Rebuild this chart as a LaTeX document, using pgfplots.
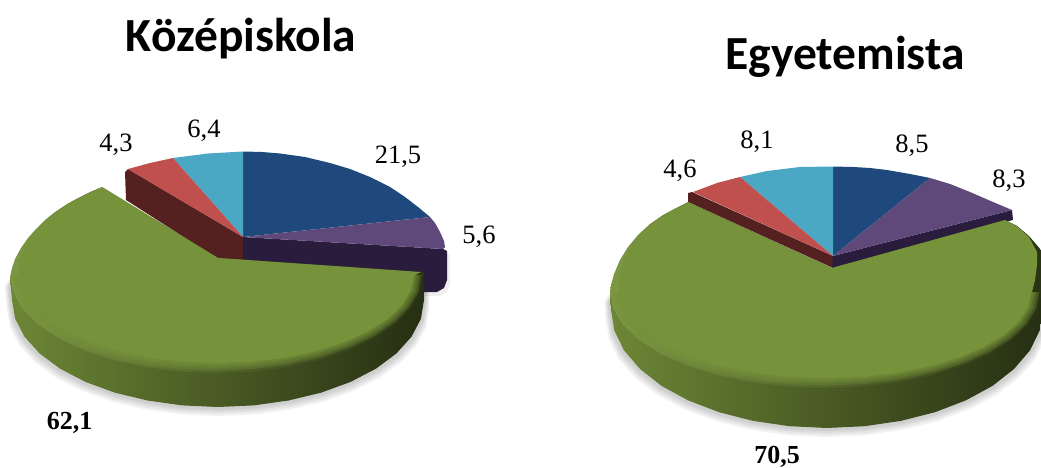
\documentclass[border=0pt]{standalone}
\usepackage{fontspec}
\usepackage{pgfplots}
\usepackage{pgfplotstable}
\pgfplotsset{compat=1.18}
\setmainfont{Liberation Serif}
\newfontfamily\titlefont{Carlito}

\definecolor{cblue}{HTML}{1F497D}
\definecolor{cpurple}{HTML}{5F497A}
\definecolor{cred}{HTML}{C0504D}
\definecolor{ccyan}{HTML}{4AA8C4}
\definecolor{cgreen}{HTML}{76923A}
\definecolor{dred}{HTML}{552020}
\definecolor{dpurple}{HTML}{2A1C3D}

% outlines are pixel positions (y runs downwards)
% --- left pie, Kozepiskola
\pgfplotstableread{
x y
243 237
243 151.5
262 152
280 153.5
305 157
330 163
350 169
370 177
390 187
405 197
418 207
430 217
}\LBlue
\pgfplotstableread{
x y
243 237
430 217
435 223
440 232
444 241
445 247
443 249
}\LPurple
\pgfplotstableread{
x y
243 237
243 151.5
208 153.5
173 158
}\LCyan
\pgfplotstableread{
x y
243 237
173 158
150 163
128 169
}\LRed
\pgfplotstableread{
x y
125 172
128 169
243 237
243 260
218 259
126 200
}\LRedSide
\pgfplotstableread{
x y
243 237
443 249
447 251
447 280
444 288
437 292
415 292
243 262
}\LPurpleSide
\pgfplotstableread{
x y
424 272
424 300
421 318.6
411.6 336.6
396.4 353.5
375.8 368.8
350.4 382
321 392.7
288.5 400.5
253.8 405.4
218 407
182.2 405.4
147.5 400.5
115 392.7
85.6 382
60.2 368.8
39.6 353.5
24.4 336.6
15.1 318.6
12 300
10 277
}\LSide
\pgfplotstableread{
x y
218 258
102 187
90 192
78 198
67 204
55 212
45 220
36 229
28 238
21 248
15 259
12 268
10 277
13.1 292
22.5 308.5
37.7 324
58.4 338
84 350
113.5 359.9
146.2 367.1
181 371.5
217 373
252.9 371.5
287.8 367.1
320.5 359.9
350 350
375.6 338
396.3 324
411.5 308.5
420.9 292
424 275
423 272
}\LTop
\pgfplotstableread{
x y
424 275
420.9 292
411.5 308.5
396.3 324
375.6 338
350 350
320.5 359.9
287.8 367.1
252.9 371.5
217 373
181 371.5
146.2 367.1
113.5 359.9
84 350
58.4 338
37.7 324
22.5 308.5
13.1 292
10 275
}\LArc
\pgfplotstableread{
x y
421 272
218 258
102 187
90 193
78 199
67 205
56 213
46 221
38 230
30 239
24 249
20 260
19 275
415 275
}\LUpper

% --- right pie, Egyetemista
\pgfplotstableread{
x y
833 256
833 166.5
853 167
870 168
887 170
910 174
930 178
}\RBlue
\pgfplotstableread{
x y
833 256
930 178
950 184
970 192
993 202
1012 210
}\RPurple
\pgfplotstableread{
x y
833 256
833 166.5
800 167
767 171
740 177
}\RCyan
\pgfplotstableread{
x y
833 256
740 177
717 183
693 192
}\RRed
\pgfplotstableread{
x y
688 193
692 192
833 256
833 268
688 202
}\RRedSide
\pgfplotstableread{
x y
833 256
1012 210
1013 220
1005 222
832 268
}\RPurpleSide
\pgfplotstableread{
x y
1043 262
1043 310
1039.7 330.5
1030 350.4
1014 369
992.5 385.9
965.8 400.4
935 412.2
900.9 420.9
864.5 426.2
827 428
789.5 426.2
753.1 420.9
719 412.2
688.2 400.4
661.5 385.9
640 369
624 350.4
614.3 330.5
611 310
610 292
}\RSide
\pgfplotstableread{
x y
832 268
688 202
676 208
663 215
650 224
638 235
628 247
620 260
614 274
611 285
610 292
613.3 308.7
623 324.8
639 340
660.5 353.7
687.2 365.5
718 375.1
752.1 382.2
788.5 386.5
826 388
863.5 386.5
899.9 382.2
934 375.1
964.8 365.5
991.5 353.7
1013 340
1029 324.8
1038.7 308.7
1042 292
1043 255
1041 250
1029 236
1017 226
1005 220
}\RTop
\pgfplotstableread{
x y
1042 292
1038.7 308.7
1029 324.8
1013 340
991.5 353.7
964.8 365.5
934 375.1
899.9 382.2
863.5 386.5
826 388
788.5 386.5
752.1 382.2
718 375.1
687.2 365.5
660.5 353.7
639 340
623 324.8
613.3 308.7
610 292
}\RArc
\pgfplotstableread{
x y
832 268
688 203
676 209
664 216
651 225
640 236
631 248
624 261
620 275
619 292
1032 292
1035 280
1037 265
1037 252
1029 237
1017 226.5
1005 220
}\RUpper

\begin{document}
\begin{tikzpicture}
\path[use as bounding box] (0,0) rectangle (1041pt,468pt);
\begin{axis}[
    at={(0,0)},
    anchor=south west,
    scale only axis,
    width=1041pt,
    height=468pt,
    xmin=0, xmax=1041,
    ymin=0, ymax=468,
    y dir=reverse,
    hide axis,
    every axis plot/.append style={draw=none, no markers}
]

  % left pie: shadow
  \addplot[fill=black, fill opacity=.05] table[x expr=218+(\thisrow{x}-218)*1.025, y expr=\thisrow{y}+9] {\LSide};
  \addplot[fill=black, fill opacity=.05] table[x expr=218+(\thisrow{x}-218)*1.02, y expr=\thisrow{y}+7] {\LSide};
  \addplot[fill=black, fill opacity=.05] table[x expr=218+(\thisrow{x}-218)*1.015, y expr=\thisrow{y}+5] {\LSide};
  \addplot[fill=black, fill opacity=.05] table[x expr=218+(\thisrow{x}-218)*1.01, y expr=\thisrow{y}+3] {\LSide};
  \addplot[fill=black, fill opacity=.06] table[x expr=\thisrow{x}+3, y expr=\thisrow{y}+4] {\LPurpleSide};

  % left pie: small slices
  \addplot[fill=dred] table {\LRedSide};
  \addplot[fill=dpurple] table {\LPurpleSide};
  \addplot[fill=cblue] table {\LBlue};
  \addplot[fill=cpurple] table {\LPurple};
  \addplot[fill=ccyan] table {\LCyan};
  \addplot[fill=cred] table {\LRed};

  % left pie: exploded green slice
  \addplot[left color=cgreen!92!black, middle color=cgreen!60!black, right color=cgreen!32!black] table {\LSide};
  \addplot[left color=cgreen!95!white, middle color=cgreen!85!white, right color=cgreen!35!black] table {\LTop};
  \addplot[fill=cgreen, fill opacity=.35] table[x expr=217+(\thisrow{x}-217)*0.988, y expr=275+(\thisrow{y}-275)*0.975] {\LArc};
  \addplot[fill=cgreen, fill opacity=.35] table[x expr=217+(\thisrow{x}-217)*0.976, y expr=275+(\thisrow{y}-275)*0.95] {\LArc};
  \addplot[fill=cgreen, fill opacity=.45] table[x expr=217+(\thisrow{x}-217)*0.964, y expr=275+(\thisrow{y}-275)*0.925] {\LArc};
  \addplot[fill=cgreen] table[x expr=217+(\thisrow{x}-217)*0.952, y expr=275+(\thisrow{y}-275)*0.90] {\LArc};
  \addplot[fill=cgreen] table {\LUpper};

  % right pie: shadow
  \addplot[fill=black, fill opacity=.05] table[x expr=827+(\thisrow{x}-827)*1.025, y expr=\thisrow{y}+9] {\RSide};
  \addplot[fill=black, fill opacity=.05] table[x expr=827+(\thisrow{x}-827)*1.02, y expr=\thisrow{y}+7] {\RSide};
  \addplot[fill=black, fill opacity=.05] table[x expr=827+(\thisrow{x}-827)*1.015, y expr=\thisrow{y}+5] {\RSide};
  \addplot[fill=black, fill opacity=.05] table[x expr=827+(\thisrow{x}-827)*1.01, y expr=\thisrow{y}+3] {\RSide};

  % right pie: small slices
  \addplot[fill=dred] table {\RRedSide};
  \addplot[fill=dpurple] table {\RPurpleSide};
  \addplot[fill=cblue] table {\RBlue};
  \addplot[fill=cpurple] table {\RPurple};
  \addplot[fill=ccyan] table {\RCyan};
  \addplot[fill=cred] table {\RRed};

  % right pie: green slice
  \addplot[left color=cgreen!92!black, middle color=cgreen!60!black, right color=cgreen!32!black] table {\RSide};
  \addplot[left color=cgreen!95!white, middle color=cgreen!85!white, right color=cgreen!35!black] table {\RTop};
  \addplot[fill=cgreen, fill opacity=.35] table[x expr=826+(\thisrow{x}-826)*0.988, y expr=292+(\thisrow{y}-292)*0.975] {\RArc};
  \addplot[fill=cgreen, fill opacity=.35] table[x expr=826+(\thisrow{x}-826)*0.976, y expr=292+(\thisrow{y}-292)*0.95] {\RArc};
  \addplot[fill=cgreen, fill opacity=.45] table[x expr=826+(\thisrow{x}-826)*0.964, y expr=292+(\thisrow{y}-292)*0.925] {\RArc};
  \addplot[fill=cgreen] table[x expr=826+(\thisrow{x}-826)*0.952, y expr=292+(\thisrow{y}-292)*0.90] {\RArc};
  \addplot[fill=cgreen] table {\RUpper};

  % titles and values
  \node[anchor=base, font=\titlefont\bfseries\fontsize{47.5}{47.5}\selectfont] at (axis cs:241,52) {Középiskola};
  \node[anchor=base, font=\titlefont\bfseries\fontsize{47.5}{47.5}\selectfont] at (axis cs:845,70) {Egyetemista};

  \tikzset{val/.style={anchor=base, inner sep=0pt, font=\fontsize{26.5}{26.5}\selectfont}}
  \node[val] at (axis cs:398,163) {21,5};
  \node[val] at (axis cs:479,243) {5,6};
  \node[val] at (axis cs:116,152) {4,3};
  \node[val] at (axis cs:204,138) {6,4};
  \node[val, font=\bfseries\fontsize{26}{26}\selectfont] at (axis cs:69.5,429) {62,1};
  \node[val] at (axis cs:912,153) {8,5};
  \node[val] at (axis cs:1009,187) {8,3};
  \node[val] at (axis cs:757,148) {8,1};
  \node[val] at (axis cs:680,177) {4,6};
  \node[val, font=\bfseries\fontsize{26}{26}\selectfont] at (axis cs:777,463) {70,5};

\end{axis}
\end{tikzpicture}
\end{document}
